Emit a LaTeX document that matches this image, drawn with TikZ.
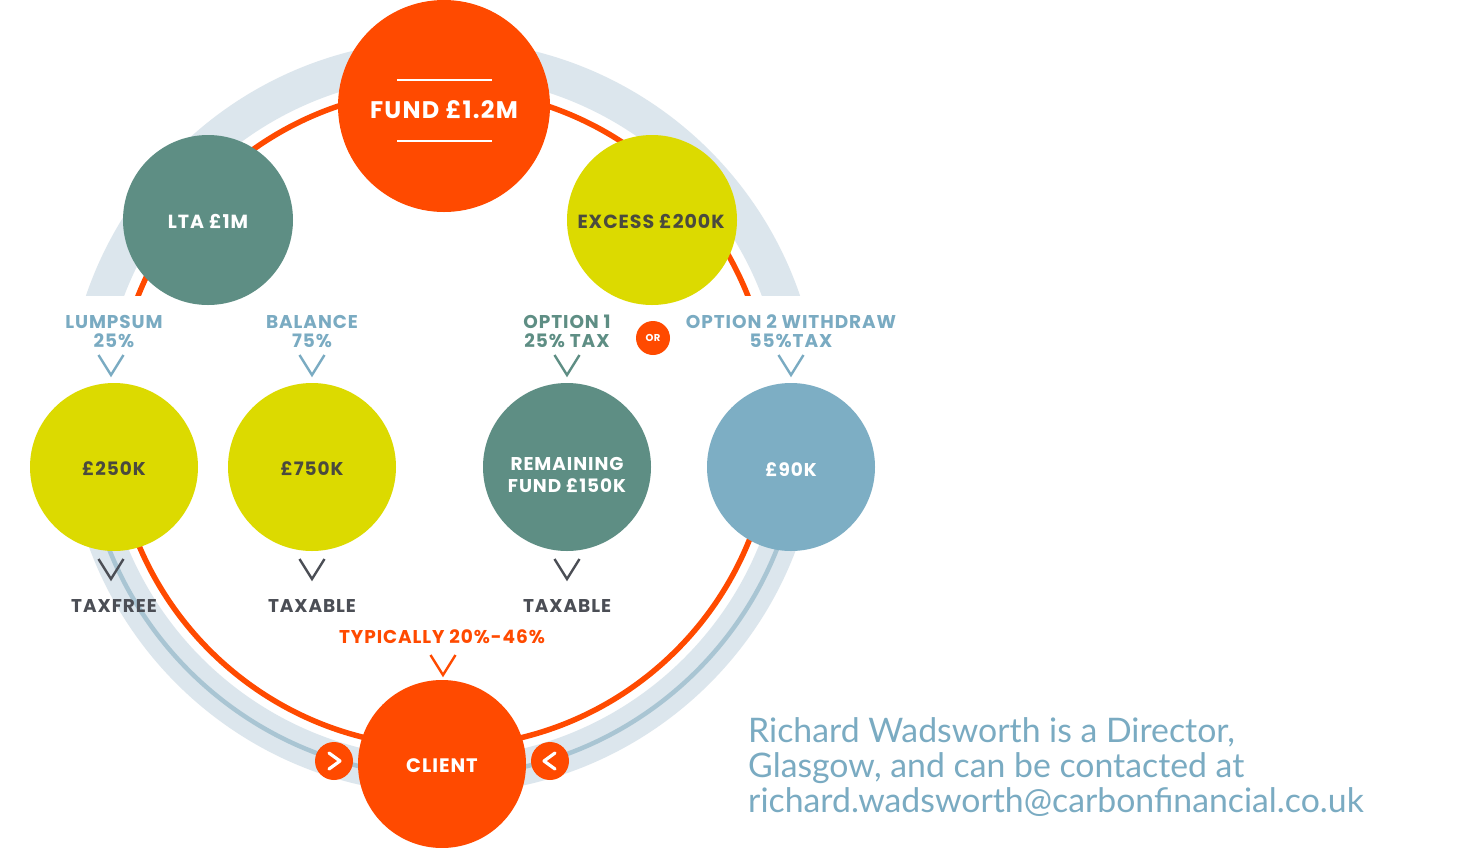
\documentclass[tikz,border=0pt]{standalone}
\usepackage{fontspec}
\setmainfont{Poppins}[LetterSpace=5]
\newfontfamily\bodyfont{Lato}
\definecolor{cOrange}{HTML}{FF4A00}
\definecolor{cTeal}{HTML}{5E8E84}
\definecolor{cYellow}{HTML}{DCDA00}
\definecolor{cBlue}{HTML}{7DAEC4}
\definecolor{cBlueText}{HTML}{7AABC2}
\definecolor{cBand}{HTML}{DCE6ED}
\definecolor{cStripe}{HTML}{A9C5D3}
\definecolor{cDark}{HTML}{4B4E55}
\definecolor{cOlive}{HTML}{4A4A3E}
\begin{document}
\begin{tikzpicture}[x=1pt,y=-1pt,
  bubble/.style={circle, inner sep=0pt, minimum size=#1},
  lab/.style={font=\bfseries\fontsize{18.5}{22}\selectfont, anchor=base, inner sep=0pt},
  bandline/.style={draw=cBand, line width=36pt},
  stripeline/.style={draw=cStripe, line width=4.5pt},
  ringline/.style={draw=cOrange, line width=5.5pt},
  vmark/.pic={\draw[line width=2.4pt, line join=miter, pic actions] (-12.5,-10) -- (0,10) -- (12.5,-10);},
  chev/.style={draw=white, line width=3.2pt, line cap=round, line join=round},
  foot/.style={anchor=base west, inner sep=0pt, text=cBlueText, font=\bodyfont\fontsize{33.8}{38}\selectfont}
]
\useasboundingbox (0,0) rectangle (1462,847);
\fill[white] (0,0) rectangle (1462,847);
\coordinate (ring) at (443,417);

% upper ring part
\begin{scope}
  \clip (0,0) rectangle (1462,295);
  \draw[bandline] (ring) circle[radius=359pt];
  \draw[ringline] (ring) circle[radius=328pt];
\end{scope}
% lower ring part
\begin{scope}
  \clip (0,470) rectangle (1462,847);
  \draw[bandline] (ring) circle[radius=359pt];
  \draw[stripeline] (ring) circle[radius=359pt];
  \draw[ringline] (ring) circle[radius=330pt];
\end{scope}

% circles
\node[bubble=212pt, fill=cOrange] (fund) at (444,106) {};
\node[bubble=170pt, fill=cTeal] (lta) at (208,220) {};
\node[bubble=170pt, fill=cYellow] (excess) at (652,220) {};
\node[bubble=168pt, fill=cYellow] (k250) at (114,467) {};
\node[bubble=168pt, fill=cYellow] (k750) at (312,467) {};
\node[bubble=168pt, fill=cTeal] (rem) at (567,467) {};
\node[bubble=168pt, fill=cBlue] (k90) at (791,467) {};
\node[bubble=168pt, fill=cOrange] (client) at (442,764) {};
\node[bubble=38pt, fill=cOrange] (arrL) at (334,761) {};
\node[bubble=38pt, fill=cOrange] (arrR) at (550,761) {};
\node[bubble=34pt, fill=cOrange, text=white, font=\bfseries\fontsize{10}{12}\selectfont] (orc) at (653,338) {OR};

% chevrons in small circles
\draw[chev] ([shift={(-5,-8)}]arrL.center) -- ([shift={(6,0)}]arrL.center) -- ([shift={(-5,8)}]arrL.center);
\draw[chev] ([shift={(5,-8)}]arrR.center) -- ([shift={(-6,0)}]arrR.center) -- ([shift={(5,8)}]arrR.center);

% fund lines
\draw[white, line width=1.3pt] ([shift={(-47,-26)}]fund.center) -- ([shift={(48,-26)}]fund.center);
\draw[white, line width=1.3pt] ([shift={(-47,35)}]fund.center) -- ([shift={(48,35)}]fund.center);

% circle labels
\node[lab, text=white, font=\bfseries\fontsize{24}{28}\selectfont] (tfund) at (444,118) {FUND £1.2M};
\node[lab, text=white, font=\bfseries\fontsize{19}{22}\selectfont] (tlta) at (208,228) {LTA £1M};
\node[lab, text=cOlive, font=\bfseries\fontsize{19}{22}\selectfont] (texcess) at (651,228) {EXCESS £200K};
\node[lab, text=cOlive] (t250) at (114,475.5) {£250K};
\node[lab, text=cOlive] (t750) at (312,475.5) {£750K};
\node[lab, text=white] (trem1) at (567,470) {REMAINING};
\node[lab, text=white] (trem2) at (567,492) {FUND £150K};
\node[lab, text=white] (t90) at (791,476) {£90K};
\node[lab, text=white, font=\bfseries\fontsize{19.5}{22}\selectfont] (tclient) at (442,772) {CLIENT};

% upper labels
\node[lab, text=cBlueText] (l1a) at (114,328) {LUMPSUM};
\node[lab, text=cBlueText] (l1b) at (114,347.5) {25\%};
\node[lab, text=cBlueText] (l2a) at (312,328) {BALANCE};
\node[lab, text=cBlueText] (l2b) at (312,347.5) {75\%};
\node[lab, text=cTeal] (l3a) at (567,328) {OPTION 1};
\node[lab, text=cTeal] (l3b) at (567,347.5) {25\% TAX};
\node[lab, text=cBlueText] (l4a) at (791,328) {OPTION 2 WITHDRAW};
\node[lab, text=cBlueText] (l4b) at (791,347.5) {55\%TAX};

% lower labels
\node[lab, text=cDark] (b1) at (114,612) {TAXFREE};
\node[lab, text=cDark] (b2) at (312,612) {TAXABLE};
\node[lab, text=cDark] (b3) at (567,612) {TAXABLE};
\node[lab, text=cOrange] (typ) at (442,643) {TYPICALLY 20\%-46\%};

% V marks
\pic[cBlueText] at (111,365) {vmark};
\pic[cBlueText] at (312,365) {vmark};
\pic[cTeal] at (567,365) {vmark};
\pic[cBlueText] at (791,365) {vmark};
\pic[cDark] at (111,569) {vmark};
\pic[cDark] at (312,569) {vmark};
\pic[cDark] at (567,569) {vmark};
\pic[cOrange] at (443,665) {vmark};

% footer text
\node[foot] (f1) at (748,742) {Richard Wadsworth is a Director,};
\node[foot] (f2) at (748,777) {Glasgow, and can be contacted at};
\node[foot] (f3) at (748,812) {richard.wadsworth@carbonfinancial.co.uk};
\end{tikzpicture}
\end{document}
